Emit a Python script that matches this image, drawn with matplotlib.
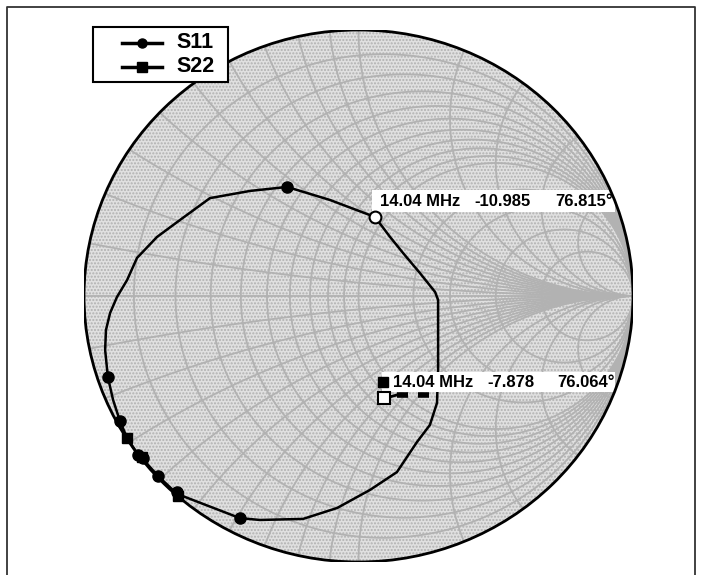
import numpy as np
import matplotlib
matplotlib.use("Agg")
import matplotlib.pyplot as plt
from matplotlib.patches import Circle, Rectangle
from matplotlib.lines import Line2D
from matplotlib.transforms import IdentityTransform

plt.rcParams['font.family'] = ['Liberation Sans', 'DejaVu Sans']

s11_re = [-0.661, -0.730, -0.789, -0.807, -0.843, -0.869, -0.894, -0.913, -0.923, -0.920,
          -0.905, -0.880, -0.843, -0.807, -0.734, -0.650, -0.541, -0.395, -0.260, -0.104,
          0.060, 0.115, 0.162, 0.224, 0.279, 0.290, 0.290, 0.290, 0.286, 0.260,
          0.213, 0.140, 0.042, -0.078, -0.202, -0.359, -0.432, -0.661]
s11_im = [-0.744, -0.677, -0.609, -0.590, -0.534, -0.470, -0.391, -0.305, -0.203, -0.128,
          -0.064, -0.004, 0.060, 0.143, 0.222, 0.286, 0.368, 0.395, 0.410, 0.361,
          0.297, 0.222, 0.162, 0.086, 0.015, -0.015, -0.165, -0.278, -0.402, -0.485,
          -0.549, -0.662, -0.729, -0.797, -0.838, -0.842, -0.835, -0.744]

# frequency markers on S11 (filled)
s11_mk_re = [-0.913, -0.869, -0.802, -0.785, -0.730, -0.661, -0.432, -0.262]
s11_mk_im = [-0.305, -0.470, -0.598, -0.609, -0.677, -0.737, -0.835, 0.410]
# S22 markers (filled squares)
s22_mk_re = [-0.843, -0.788, -0.658, 0.089]
s22_mk_im = [-0.534, -0.607, -0.750, -0.323]

# S22 trace next to its active marker
s22_re = [0.112, 0.140, 0.264]
s22_im = [-0.380, -0.372, -0.372]

# active markers (open symbols) and their readouts
m1 = (0.060, 0.297)
m2 = (0.093, -0.383)
m1_text = ["14.04 MHz", "-10.985", "76.815°"]
m2_text = ["14.04 MHz", "-7.878", "76.064°"]

# Smith chart grid values
r_vals = [0.1, 0.2, 0.3, 0.4, 0.5, 0.6, 0.7, 0.8, 0.9, 1.0, 1.5, 2.0, 3.0, 5.0]
x_vals = [0.1, 0.2, 0.3, 0.4, 0.5, 0.6, 0.7, 0.8, 0.9, 1.0, 1.5, 2.0, 3.0, 5.0]

W, H = 702, 575
fig = plt.figure(figsize=(W / 100, H / 100), dpi=100)
fig.patch.set_facecolor('white')

# unit circle spans x 84..633, y 30..562 (pixels)
ax = fig.add_axes([84 / W, (H - 562) / H, 549 / W, 532 / H])
ax.set_xlim(-1, 1)
ax.set_ylim(-1, 1)
ax.set_aspect('auto')
ax.axis('off')

bg = Circle((0, 0), 1, facecolor='#e0e0e0', edgecolor='#b0b0b0', linewidth=0,
            hatch='.....', zorder=0)
ax.add_patch(bg)
clip = Circle((0, 0), 1, transform=ax.transData)

t = np.linspace(0, 2 * np.pi, 1500)
gcol = '#b2b2b2'
for r in r_vals:
    c = r / (1 + r)
    rad = 1 / (1 + r)
    ln, = ax.plot(c + rad * np.cos(t), rad * np.sin(t), color=gcol, lw=1.3, zorder=1)
    ln.set_clip_path(clip)
for x in x_vals:
    rad = 1 / x
    for s in (1, -1):
        ln, = ax.plot(1 + rad * np.cos(t), s * rad + rad * np.sin(t), color=gcol,
                      lw=1.3, zorder=1)
        ln.set_clip_path(clip)
ax.plot([-1, 1], [0, 0], color=gcol, lw=1.3, zorder=1)

# outline drawn above the readout strips
ax.add_patch(Circle((0, 0), 1, facecolor='none', edgecolor='black', lw=2, zorder=5.5))

ax.plot(s11_re, s11_im, color='black', lw=1.8, zorder=4)
ax.plot(s11_mk_re, s11_mk_im, 'o', color='black', ms=8, zorder=6)
ax.plot(s22_mk_re, s22_mk_im, 's', color='black', ms=7.5, zorder=6)
ax.plot(s22_re[:2], s22_im[:2], color='black', lw=2, zorder=6)
ax.plot(s22_re[1:], s22_im[1:], color='black', lw=4, dashes=(1.98, 1.8), zorder=6,
        dash_capstyle='butt')

ax.plot(*m1, 'o', mfc='white', mec='black', mew=1.5, ms=8.5, zorder=7)
ax.plot(*m2, 's', mfc='white', mec='black', mew=1.5, ms=8.5, zorder=7)

fig.canvas.draw()


def readout(pt, dx, dy, parts, offs, box):
    # white strip behind the readout, box = (left, bottom, width, height) in px from pt
    px, py = ax.transData.transform(pt)
    ax.add_artist(Rectangle((px + box[0], py + box[1]), box[2], box[3],
                            transform=IdentityTransform(), facecolor='white',
                            edgecolor='none', zorder=5))
    for p, o in zip(parts, offs):
        ax.annotate(p, xy=pt, xytext=(dx + o, dy), textcoords='offset points',
                    fontsize=12, fontweight='bold', ha='left', va='center',
                    zorder=8)


readout(m1, 3.5, 11.5, m1_text, [0, 68, 126], (-3, 5, 243, 22))
readout(m2, 6.5, 11, m2_text, [0, 68, 118], (-2, 6, 233, 20))

# legend (drawn by hand in figure pixels)
fig.add_artist(Rectangle((93 / W, 1 - 82 / H), 135 / W, 55 / H, transform=fig.transFigure,
                         facecolor='white', edgecolor='black', lw=1.5, zorder=10))
for name, mk, yy in [('S11', 'o', 43), ('S22', 's', 67)]:
    fig.add_artist(Line2D([122 / W, 162 / W], [1 - yy / H, 1 - yy / H], color='black',
                          lw=2.5, transform=fig.transFigure, zorder=11))
    fig.add_artist(Line2D([142 / W], [1 - yy / H], color='black', marker=mk, ms=6.5,
                          transform=fig.transFigure, zorder=11))
    fig.text(176 / W, 1 - yy / H, name, fontsize=15.5, fontweight='bold',
             ha='left', va='center', zorder=12)

# outer frame (open at the bottom)
fx0, fx1, fy = 7 / W, 695 / W, 1 - 7 / H
fig.add_artist(Line2D([fx0, fx0, fx1, fx1], [0, fy, fy, 0], color='#333333',
                      lw=1.3, transform=fig.transFigure))

fig.savefig('out.png', dpi=100)
